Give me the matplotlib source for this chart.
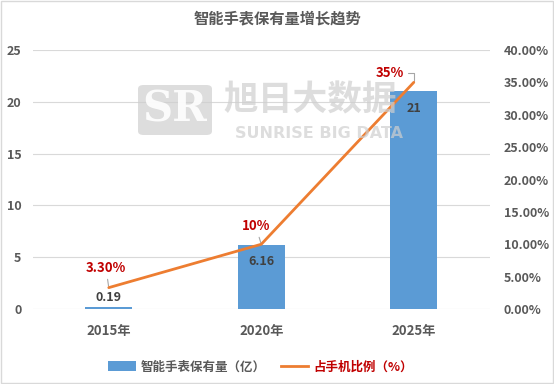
import matplotlib
matplotlib.use("Agg")
import matplotlib.pyplot as plt
from matplotlib.patches import FancyBboxPatch, Rectangle
from matplotlib.lines import Line2D
from matplotlib.patches import Patch

plt.rcParams['font.family'] = ['Noto Sans CJK SC', 'DejaVu Sans']

years = ["2015年", "2020年", "2025年"]
holdings = [0.19, 6.16, 21]          # 智能手表保有量（亿）
ratio = [0.033, 0.10, 0.35]          # 占手机比例
ratio_labels = ["3.30%", "10%", "35%"]
bar_labels = ["0.19", "6.16", "21"]
left_ticks = [0, 5, 10, 15, 20, 25]
right_ticks = [0, 0.05, 0.10, 0.15, 0.20, 0.25, 0.30, 0.35, 0.40]

BLUE = "#5B9BD5"
ORANGE = "#ED7D31"
RED = "#C00000"
GRAY = "#595959"
GRID = "#D9D9D9"

fig = plt.figure(figsize=(5.54, 3.84), dpi=100)
fig.patch.set_facecolor("white")
# chart border
fig.add_artist(Rectangle((0.002, 0.003), 0.996, 0.994, transform=fig.transFigure,
                         fill=False, edgecolor="#D9D9D9", linewidth=1))

ax = fig.add_axes([0.0587, 0.1953, 0.8258, 0.6745])
x = list(range(len(years)))
ax.set_xlim(-0.5, 2.5)
ax.set_ylim(0, 25)
ax.set_yticks(left_ticks)
ax.set_yticklabels([str(t) for t in left_ticks], fontsize=9, color=GRAY, fontweight="bold")
ax.set_xticks(x)
ax.set_xticklabels(years, fontsize=9.5, color=GRAY, fontweight="bold")
ax.tick_params(axis="y", length=0, pad=8)
ax.tick_params(axis="x", length=0, pad=11)
for s in ax.spines.values():
    s.set_visible(False)
ax.grid(axis="y", color=GRID, linewidth=0.8)
ax.set_axisbelow(True)

bars = ax.bar(x, holdings, width=0.31, color=BLUE, zorder=2)

# watermark
wm_color = "#CFCFCF"
fig.add_artist(FancyBboxPatch((138 / 554, 1 - 135 / 384), 74 / 554, 50 / 384,
                              boxstyle="round,pad=0,rounding_size=0.01",
                              transform=fig.transFigure, facecolor=wm_color,
                              edgecolor="none", alpha=0.7, zorder=3))
fig.text(175 / 554, 1 - 110 / 384, "SR", fontsize=30, fontweight="bold", color="white",
         ha="center", va="center", family="DejaVu Serif", alpha=0.9, zorder=3)
fig.text(310 / 554, 1 - 100 / 384, "旭日大数据", fontsize=25, fontweight="bold",
         color=wm_color, ha="center", va="center", alpha=0.7, zorder=3)
fig.text(319 / 554, 1 - 133 / 384, "SUNRISE BIG DATA", fontsize=11.5, fontweight="bold",
         color=wm_color, ha="center", va="center", alpha=0.7, zorder=3,
         family="DejaVu Sans")

# bar labels
for i, (v, lab) in enumerate(zip(holdings, bar_labels)):
    if v < 2:
        ax.annotate(lab, (i, v), xytext=(0, 2), textcoords="offset points",
                    ha="center", va="bottom", fontsize=9, color="#404040",
                    fontweight="bold", zorder=5)
    else:
        ax.annotate(lab, (i, v), xytext=(0, -12), textcoords="offset points",
                    ha="center", va="center", fontsize=9, color="#404040",
                    fontweight="bold", zorder=5)

# secondary axis
ax2 = ax.twinx()
ax2.set_ylim(0, 0.40)
ax2.set_yticks(right_ticks)
ax2.set_yticklabels([f"{t * 100:.2f}%" for t in right_ticks], fontsize=9,
                    color=GRAY, fontweight="bold")
ax2.tick_params(axis="y", length=0, pad=10)
for s in ax2.spines.values():
    s.set_visible(False)
ax2.plot(x, ratio, color=ORANGE, linewidth=2, zorder=6, solid_capstyle="round")

offsets = [(-2, 14), (-4, 13), (-17, 6.5)]
for i, (v, lab, off) in enumerate(zip(ratio, ratio_labels, offsets)):
    ax2.annotate(lab, (i, v), xytext=off, textcoords="offset points",
                 ha="center", va="center", fontsize=9.5, color=RED, fontweight="bold",
                 arrowprops=dict(arrowstyle="-", color="#A6A6A6", lw=0.8,
                                 shrinkA=1, shrinkB=1,
                                 connectionstyle="angle,angleA=0,angleB=90,rad=0" if i == 2 else "arc3"))

fig.text(0.5, 1 - 18 / 384, "智能手表保有量增长趋势", fontsize=11, fontweight="bold",
         color=GRAY, ha="center", va="center")

handles = [Patch(facecolor=BLUE, edgecolor="none"),
           Line2D([0], [0], color=ORANGE, linewidth=2)]
leg = fig.legend(handles, ["智能手表保有量（亿）", "占手机比例（%）"], loc="center",
                 bbox_to_anchor=(0.47, 1 - 367 / 384), ncol=2, frameon=False,
                 fontsize=9, handlelength=2.2, handleheight=0.8, columnspacing=1.2,
                 handletextpad=0.4)
texts = leg.get_texts()
texts[0].set_color(GRAY)
texts[0].set_fontweight("bold")
texts[1].set_color(RED)
texts[1].set_fontweight("bold")

fig.savefig("out.png", dpi=100)
